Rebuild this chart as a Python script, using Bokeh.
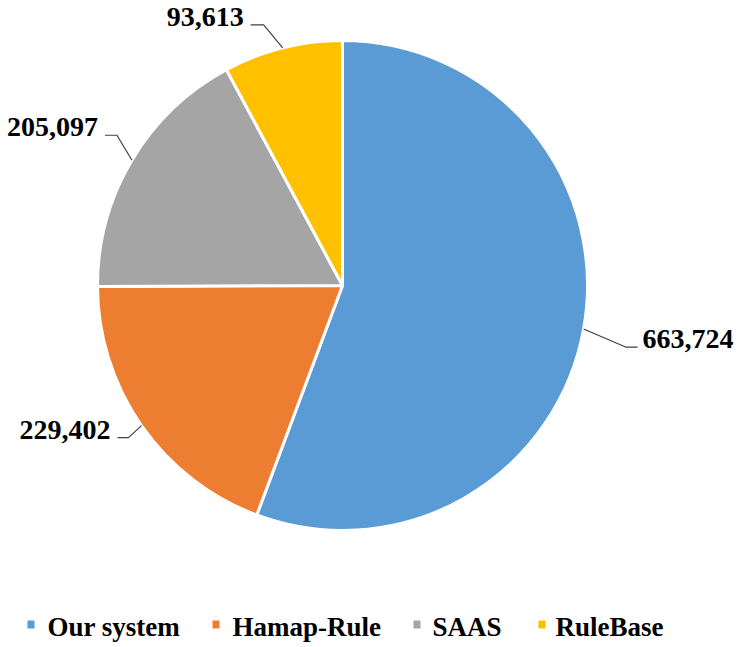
import math
from bokeh.plotting import figure
from bokeh.models import Range1d, ColumnDataSource
from bokeh.core.properties import value
from bokeh.embed import file_html
from bokeh.resources import INLINE

# ---- data ----
categories = ["Our system", "Hamap-Rule", "SAAS", "RuleBase"]
counts = [663724, 229402, 205097, 93613]
colors = ["#5B9BD5", "#ED7D31", "#A5A5A5", "#FFC000"]

# ---- layout ----
W, H = 740, 647
CX, CY, R = 342, 362, 245
FONT = value("Liberation Serif")
TEXT_SHIFT = 9

# leader-line offsets from wedge edge midpoint: elbow, end, and text anchor
leader = [
    ((42, -18), (54, -18), (59, -19), "left"),
    ((-13, -12), (-24, -12), (-31, -13), "right"),
    ((-15, 25), (-27, 25), (-34, 24), "right"),
    ((-19, 23), (-32, 23), (-39, 22), "right"),
]
legend_sq_x = [27, 212, 413, 538]
legend_txt_x = [47, 232, 432, 555]
legend_sq_y = 23
legend_txt_y = 12

p = figure(width=W, height=H, output_backend="svg", toolbar_location=None,
           x_range=Range1d(0, W), y_range=Range1d(0, H), min_border=0)
p.axis.visible = False
p.grid.visible = False
p.outline_line_color = None
p.background_fill_color = "white"

total = float(sum(counts))
starts, ends, mids = [], [], []
acc = 0.0
for c in counts:
    a0 = math.pi / 2 - 2 * math.pi * acc / total
    acc += c
    a1 = math.pi / 2 - 2 * math.pi * acc / total
    starts.append(a0)
    ends.append(a1)
    mids.append((a0 + a1) / 2)

src = ColumnDataSource(dict(start=starts, end=ends, color=colors))
p.wedge(x=CX, y=CY, radius=R, start_angle="start", end_angle="end",
        direction="clock", fill_color="color", line_color="white",
        line_width=3, source=src)

for i, c in enumerate(counts):
    ex = CX + R * math.cos(mids[i])
    ey = CY + R * math.sin(mids[i])
    (e1x, e1y), (e2x, e2y), (tx, ty), align = leader[i]
    p.line([ex, ex + e1x, ex + e2x], [ey, ey + e1y, ey + e2y],
           line_color="#404040", line_width=1.2)
    p.text(x=[ex + tx], y=[ey + ty + TEXT_SHIFT], text=[f"{c:,}"], text_font=FONT,
           text_font_style="bold", text_font_size="28px",
           text_align=align, text_baseline="alphabetic", text_color="black")

for i, name in enumerate(categories):
    p.rect(x=[legend_sq_x[i] + 3.5], y=[legend_sq_y], width=7, height=8,
           fill_color=colors[i], line_color=None)
    p.text(x=[legend_txt_x[i]], y=[legend_txt_y + TEXT_SHIFT], text=[name], text_font=FONT,
           text_font_style="bold", text_font_size="27px",
           text_align="left", text_baseline="alphabetic", text_color="black")

open("out.html", "w").write(file_html(p, INLINE))
